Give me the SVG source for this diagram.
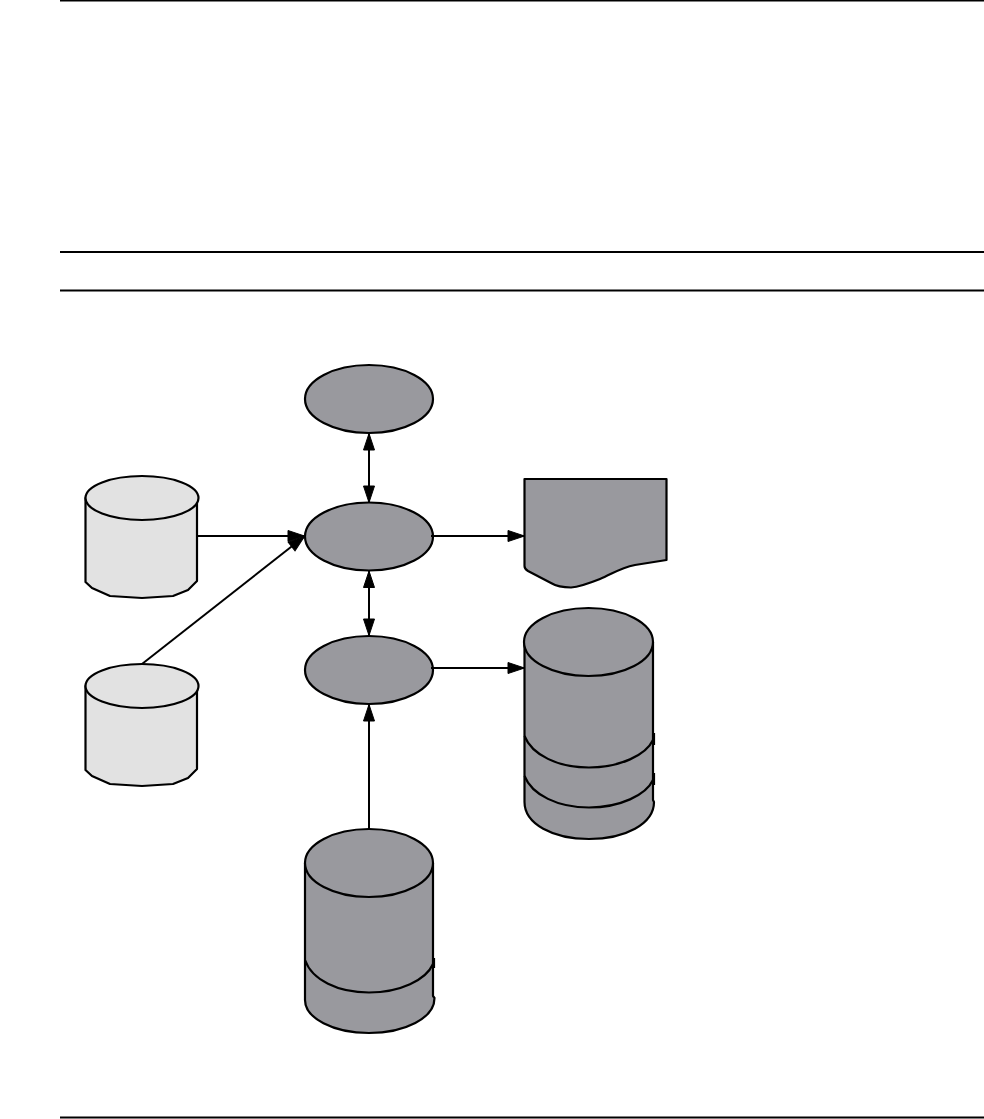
<svg xmlns="http://www.w3.org/2000/svg" width="984" height="1119" viewBox="0 0 984 1119">
<style>
.r{stroke:#000;stroke-width:2;fill:none}
.s{stroke:#000;stroke-width:2.200;fill:#99999e;stroke-linejoin:round}
.l{stroke:#000;stroke-width:2.200;fill:#e2e2e2;stroke-linejoin:round}
.n{stroke:#000;stroke-width:2.200;fill:none}
.c{stroke:#000;stroke-width:2;fill:none}
</style>
<defs>
<marker id="e" markerUnits="userSpaceOnUse" markerWidth="20" markerHeight="14" refX="18" refY="7" orient="auto-start-reverse"><path d="M1 1.500L17.500 7L1 12.500Z" fill="#000" stroke="#000" stroke-width="1"/></marker>
</defs>
<rect width="984" height="1119" fill="#fff"/>
<g id="rules">
<path class="r" d="M60 .5H984M60 252H984M60 290.500H984M60 1117.500H984"/>
</g>
<g id="ellipse-top"><ellipse class="s" cx="369" cy="399" rx="64" ry="34"/></g>
<g id="ellipse-middle"><ellipse class="s" cx="369" cy="536.500" rx="64" ry="34"/></g>
<g id="ellipse-lower"><ellipse class="s" cx="369" cy="670" rx="64" ry="34"/></g>
<g id="store-a">
<path class="l" d="M85.500 498V582L92 588L110 596L142 598L173 596L188 590L197 581V498Z"/>
<ellipse class="l" cx="142" cy="498" rx="56.500" ry="22"/>
</g>
<g id="store-b">
<path class="l" d="M85.500 686V770L92 776L110 784L142 786L173 784L188 778L197 769V686Z"/>
<ellipse class="l" cx="142" cy="686" rx="56.500" ry="22"/>
</g>
<g id="document">
<path class="s" d="M524.500 479H666.500V560L635 565C620 568 612 574 600 579C590 583 578 587 571 587.500C563 587.500 556 586 551 583L528 571Q524.500 569 524.500 566Z"/>
</g>
<g id="stack-right">
<path class="s" d="M524.500 642V802C524.500 824 553 839 589 839C625 839 654 824 654 802L653 800V642Z"/>
<path class="n" d="M524.500 736C532 755 558 767.500 589 767.500C620 767.500 646 755 653 740"/>
<path class="n" d="M524.500 776C532 795 558 807.500 589 807.500C620 807.500 646 795 653 780"/>
<path class="n" d="M654 733V745M654 773V785"/>
<ellipse class="s" cx="588.500" cy="642" rx="64.500" ry="34"/>
</g>
<g id="stack-bottom">
<path class="s" d="M305 863V1000C305 1018 333 1033 369 1033C405 1033 434.500 1018 434.500 998L433 996V863Z"/>
<path class="n" d="M305 960C312 980 338 992.500 369 992.500C400 992.500 426 980 433 964"/>
<path class="n" d="M434 958V968"/>
<ellipse class="s" cx="369" cy="863" rx="64" ry="34"/>
</g>
<g id="connectors">
<path class="c" d="M369 433V503" marker-start="url(#e)" marker-end="url(#e)"/>
<path class="c" d="M369 570.500V636" marker-start="url(#e)" marker-end="url(#e)"/>
<path class="c" d="M198 536H305" marker-end="url(#e)"/>
<path class="c" d="M142 664L305 536" marker-end="url(#e)"/>
<path class="c" d="M431 536H525" marker-end="url(#e)"/>
<path class="c" d="M431 668H525" marker-end="url(#e)"/>
<path class="c" d="M369 829V704" marker-end="url(#e)"/>
</g>
</svg>
